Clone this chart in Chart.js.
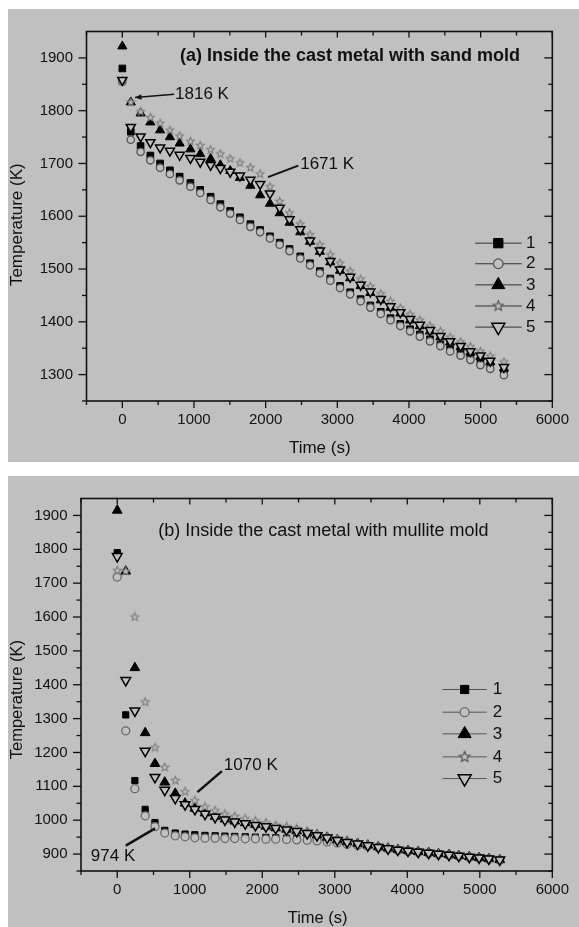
<!DOCTYPE html>
<html>
<head>
<meta charset="utf-8">
<title>Temperature inside the cast metal</title>
<script src="https://cdn.jsdelivr.net/npm/chart.js@4.4.1/dist/chart.umd.min.js"></script>
<style>
  html, body { margin: 0; padding: 0; background: #fff; }
  body { width: 579px; height: 927px; position: relative; overflow: hidden; }
  .panel { position: absolute; left: 8px; width: 571px; background: #c0c0c0; }
  #panelA { top: 9px; height: 453px; }
  #panelB { top: 476px; height: 451px; }
  canvas { display: block; }
</style>
</head>
<body>
<div class="panel" id="panelA"><canvas id="chartA" width="571" height="453"></canvas></div>
<div class="panel" id="panelB"><canvas id="chartB" width="571" height="451"></canvas></div>
<script>
// Series names and tick labels
const seriesNames = ['1', '2', '3', '4', '5'];
const xTickLabels = [0, 1000, 2000, 3000, 4000, 5000, 6000];
const yTickLabelsA = [1300, 1400, 1500, 1600, 1700, 1800, 1900];
const yTickLabelsB = [900, 1000, 1100, 1200, 1300, 1400, 1500, 1600, 1700, 1800, 1900];

// (a) sand mold: time (s) and temperature (K)
const timeA = [0, 118, 255, 391, 527, 664, 800, 950, 1087, 1232, 1368, 1505, 1641, 1787, 1923, 2060, 2196, 2333, 2483, 2619,
  2756, 2902, 3038, 3179, 3325, 3461, 3606, 3742, 3879, 4015, 4151, 4293, 4438, 4574, 4720, 4857, 4997, 5134, 5325];
const sand1 = [1880, 1760, 1733, 1715, 1700, 1687, 1675, 1663, 1650, 1637, 1623, 1610, 1598, 1585, 1574, 1562, 1550, 1538, 1524, 1511,
  1496, 1482, 1468, 1456, 1443, 1431, 1419, 1407, 1396, 1386, 1376, 1367, 1357, 1348, 1339, 1331, 1322, 1314, 1302];
const sand2 = [1855, 1745, 1722, 1706, 1692, 1680, 1668, 1656, 1644, 1631, 1617, 1605, 1593, 1580, 1570, 1558, 1546, 1534, 1520, 1507,
  1492, 1478, 1464, 1452, 1439, 1427, 1415, 1403, 1392, 1382, 1372, 1363, 1354, 1344, 1336, 1328, 1318, 1311, 1299];
const sand3 = [1922, 1816, 1795, 1778, 1763, 1750, 1738, 1727, 1718, 1709, 1697, 1686, 1673, 1658, 1640, 1624, 1606, 1588, 1570, 1552,
  1533, 1513, 1497, 1483, 1468, 1455, 1441, 1427, 1416, 1403, 1392, 1382, 1371, 1361, 1352, 1342, 1334, 1324, 1312];
const sand4 = [1856, 1816, 1798, 1787, 1776, 1763, 1752, 1742, 1734, 1726, 1718, 1709, 1701, 1692, 1680, 1656, 1628, 1606, 1585, 1565,
  1546, 1527, 1511, 1496, 1481, 1467, 1453, 1439, 1426, 1414, 1403, 1392, 1382, 1371, 1362, 1353, 1344, 1335, 1324];
const sand5 = [1858, 1769, 1751, 1740, 1730, 1724, 1716, 1710, 1703, 1697, 1691, 1684, 1677, 1669, 1661, 1643, 1616, 1594, 1575, 1554,
  1535, 1515, 1499, 1485, 1470, 1457, 1443, 1429, 1418, 1405, 1394, 1384, 1373, 1363, 1354, 1344, 1336, 1326, 1314];

// (b) mullite mold: time (s) and temperature (K)
const timeB = [0, 117, 243, 385, 520, 655, 800, 935, 1070, 1210, 1350, 1485, 1620, 1765, 1905, 2050, 2185, 2335, 2475, 2620,
  2755, 2895, 3035, 3170, 3315, 3455, 3600, 3735, 3870, 4010, 4150, 4295, 4430, 4575, 4710, 4855, 4990, 5125, 5275];
const mullite1 = [1790, 1311, 1117, 1032, 993, 970, 962, 959, 957, 955, 954, 953, 952, 951, 950, 949, 948, 947, 946, 944,
  942, 939, 936, 932, 928, 925, 920, 916, 912, 909, 906, 903, 900, 897, 894, 891, 889, 886, 883];
const mullite2 = [1718, 1264, 1093, 1013, 981, 962, 954, 951, 948, 947, 947, 946, 946, 945, 945, 944, 944, 943, 942, 941,
  939, 936, 933, 929, 926, 923, 919, 915, 911, 908, 905, 902, 899, 896, 893, 890, 888, 885, 882];
const mullite3 = [1915, 1735, 1450, 1258, 1167, 1112, 1079, 1050, 1035, 1021, 1011, 1003, 997, 992, 987, 982, 977, 973, 968, 962,
  956, 949, 942, 936, 931, 926, 921, 917, 913, 910, 907, 904, 901, 898, 895, 892, 889, 886, 883];
const mullite4 = [1737, 1735, 1600, 1349, 1214, 1156, 1117, 1084, 1058, 1039, 1028, 1018, 1011, 1004, 998, 992, 985, 981, 975, 967,
  960, 952, 945, 939, 933, 928, 923, 919, 915, 911, 908, 905, 902, 899, 896, 893, 890, 887, 885];
const mullite5 = [1779, 1413, 1323, 1204, 1127, 1089, 1065, 1046, 1032, 1018, 1009, 1001, 995, 990, 985, 981, 976, 972, 967, 961,
  955, 948, 941, 935, 930, 925, 920, 916, 912, 909, 906, 903, 900, 897, 894, 891, 889, 886, 883];

const BG = '#c0c0c0';
const INK = '#111';
const FONT = '"Liberation Sans", Arial, Helvetica, sans-serif';

// five-pointed open star used as a point style
function starImage(outer, stroke, lw) {
    const size = Math.ceil(outer * 2 + lw * 2 + 2);
    const c = document.createElement('canvas');
    c.width = size;
    c.height = size;
    const g = c.getContext('2d');
    const cx = size / 2, cy = size / 2, inner = outer * 0.45;
    g.beginPath();
    for (let k = 0; k < 10; k++) {
        const r = k % 2 ? inner : outer;
        const ang = -Math.PI / 2 + k * Math.PI / 5;
        g.lineTo(cx + r * Math.cos(ang), cy + r * Math.sin(ang));
    }
    g.closePath();
    g.fillStyle = BG;
    g.fill();
    g.lineWidth = lw;
    g.strokeStyle = stroke;
    g.stroke();
    return c;
}

function markerStyles(r, circleColor, starColor) {
    return [
        { pointStyle: 'rect', pointRadius: r.rect, pointBackgroundColor: '#000', pointBorderColor: '#000', pointBorderWidth: 1 },
        { pointStyle: 'circle', pointRadius: r.circle, pointBackgroundColor: BG, pointBorderColor: circleColor, pointBorderWidth: 1.3 },
        { pointStyle: 'triangle', pointRadius: r.tri, pointBackgroundColor: '#000', pointBorderColor: '#000', pointBorderWidth: 1 },
        { pointStyle: starImage(r.star, starColor, 1.1), pointRadius: r.star, pointBackgroundColor: BG, pointBorderColor: starColor, pointBorderWidth: 1.1 },
        { pointStyle: 'triangle', pointRotation: 180, pointRadius: r.tri, pointBackgroundColor: BG, pointBorderColor: '#000', pointBorderWidth: 1.5 }
    ];
}

// Origin-like frame, ticks, titles, notes and legend
const originLook = {
    id: 'originLook',
    afterDraw(chart, args, o) {
        const ctx = chart.ctx, a = chart.chartArea;
        const xs = chart.scales.x, ys = chart.scales.y;
        const px = v => xs.getPixelForValue(v);
        const py = v => ys.getPixelForValue(v);
        ctx.save();
        ctx.strokeStyle = INK;
        ctx.lineWidth = 1.6;
        ctx.strokeRect(a.left, a.top, a.right - a.left, a.bottom - a.top);

        const seg = (x1, y1, x2, y2) => { ctx.beginPath(); ctx.moveTo(x1, y1); ctx.lineTo(x2, y2); ctx.stroke(); };
        ctx.lineWidth = 1.3;
        const xMinor = xTickLabels.map(v => v - 500);
        const yMinor = o.yTicks.map(v => v - 50);
        xTickLabels.forEach(v => { const x = px(v); seg(x, a.bottom, x, a.bottom + 7); seg(x, a.top, x, a.top + 6); });
        xMinor.forEach(v => { const x = px(v); seg(x, a.bottom, x, a.bottom + 4); seg(x, a.top, x, a.top + 4); });
        o.yTicks.forEach(v => { const y = py(v); seg(a.left - 8, y, a.left, y); seg(a.right - 8, y, a.right, y); });
        yMinor.forEach(v => { const y = py(v); seg(a.left - 4.5, y, a.left, y); seg(a.right - 4, y, a.right, y); });

        ctx.fillStyle = INK;
        ctx.textBaseline = 'middle';
        // axis titles
        ctx.font = o.axisFont;
        ctx.textAlign = 'center';
        ctx.fillText('Time (s)', px(o.xTitle.t), a.bottom + o.xTitle.dy);
        ctx.save();
        ctx.translate(a.left + o.yTitle.dx, py(o.yTitle.T));
        ctx.rotate(-Math.PI / 2);
        ctx.fillText('Temperature (K)', 0, 0);
        ctx.restore();

        // panel title and notes
        ctx.textAlign = 'left';
        ctx.font = o.title.font;
        ctx.fillText(o.title.text, px(o.title.t), py(o.title.T));
        ctx.font = o.noteFont;
        o.notes.forEach(n => ctx.fillText(n.text, px(n.t), py(n.T)));
        o.pointers.forEach(p => {
            const x1 = px(p.from[0]), y1 = py(p.from[1]), x2 = px(p.to[0]), y2 = py(p.to[1]);
            ctx.lineWidth = p.width;
            seg(x1, y1, x2, y2);
            if (p.arrow) {
                const ang = Math.atan2(y2 - y1, x2 - x1);
                ctx.beginPath();
                ctx.moveTo(x2, y2);
                ctx.lineTo(x2 - 7 * Math.cos(ang - 0.4), y2 - 7 * Math.sin(ang - 0.4));
                ctx.lineTo(x2 - 7 * Math.cos(ang + 0.4), y2 - 7 * Math.sin(ang + 0.4));
                ctx.closePath();
                ctx.fill();
            }
        });

        // legend: line - marker - line, then the label
        const L = o.legend;
        chart.data.datasets.forEach((ds, i) => {
            const y = py(L.rows[i]);
            ctx.strokeStyle = L.lineColor;
            ctx.lineWidth = 1;
            seg(px(L.lineFrom), y, px(L.lineTo), y);
            ctx.fillStyle = ds.pointBackgroundColor;
            ctx.strokeStyle = ds.pointBorderColor;
            ctx.lineWidth = ds.pointBorderWidth;
            const style = typeof ds.pointStyle === 'string' ? ds.pointStyle : L.star;
            Chart.helpers.drawPoint(ctx, {
                pointStyle: style, rotation: ds.pointRotation || 0,
                radius: L.radius[i], borderWidth: ds.pointBorderWidth
            }, px(L.marker), y);
            ctx.fillStyle = INK;
            ctx.font = L.font;
            ctx.fillText(ds.label, px(L.label), y);
        });
        ctx.restore();
    }
};

function buildChart(id, cfg) {
    const styles = markerStyles(cfg.radius, cfg.circleColor, cfg.starColor);
    const plain = v => String(v);
    return new Chart(document.getElementById(id), {
        type: 'scatter',
        data: {
            datasets: cfg.series.map((vals, i) => Object.assign({
                label: seriesNames[i],
                data: cfg.times.map((t, k) => ({ x: t, y: vals[k] })),
                order: 5 - i
            }, styles[i]))
        },
        options: {
            responsive: false,
            animation: false,
            events: [],
            layout: { padding: { left: 0, right: 16, top: 4, bottom: 0 } },
            plugins: {
                legend: { display: false },
                tooltip: { enabled: false },
                originLook: cfg.look
            },
            scales: {
                x: {
                    type: 'linear', min: -500, max: 6000,
                    grid: { display: false, drawTicks: false }, border: { display: false },
                    afterBuildTicks: s => { s.ticks = xTickLabels.map(v => ({ value: v })); },
                    afterFit: s => { s.height = cfg.xAxisHeight; },
                    ticks: { font: { family: FONT, size: 15 }, color: INK, padding: 10, maxRotation: 0, autoSkip: false, callback: plain }
                },
                y: {
                    type: 'linear', min: cfg.yMin, max: 1950,
                    grid: { display: false, drawTicks: false }, border: { display: false },
                    afterBuildTicks: s => { s.ticks = cfg.look.yTicks.map(v => ({ value: v })); },
                    afterFit: s => { s.width = cfg.yAxisWidth; },
                    ticks: { font: { family: FONT, size: 15 }, color: INK, padding: 13.5, autoSkip: false, callback: plain }
                }
            }
        },
        plugins: [originLook]
    });
}

buildChart('chartA', {
    times: timeA,
    series: [sand1, sand2, sand3, sand4, sand5],
    yMin: 1250, yAxisWidth: 78.5, xAxisHeight: 61,
    radius: { rect: 4.7, circle: 3.7, tri: 5.3, star: 4 },
    circleColor: '#555', starColor: '#7a7a7a',
    look: {
        yTicks: yTickLabelsA,
        axisFont: '17px ' + FONT,
        noteFont: '17px ' + FONT,
        xTitle: { t: 2755, dy: 47 },
        yTitle: { T: 1584, dx: -69.5 },
        title: { text: '(a) Inside the cast metal with sand mold', t: 805, T: 1904, font: 'bold 18px ' + FONT },
        notes: [{ text: '1816 K', t: 736, T: 1831 }, { text: '1671 K', t: 2482, T: 1698 }],
        pointers: [
            { from: [723, 1831], to: [177, 1825], width: 1.6, arrow: true },
            { from: [2455, 1696], to: [2032, 1674], width: 2, arrow: false }
        ],
        legend: {
            rows: [1549, 1510, 1470, 1430, 1390],
            lineFrom: 4923, lineTo: 5573, marker: 5246, label: 5632,
            lineColor: '#333', font: '17px ' + FONT,
            radius: [6.6, 4.8, 7.5, 5.2, 7.5],
            star: starImage(5.2, '#555', 1.2)
        }
    }
});

buildChart('chartB', {
    times: timeB,
    series: [mullite1, mullite2, mullite3, mullite4, mullite5],
    yMin: 850, yAxisWidth: 73, xAxisHeight: 56,
    radius: { rect: 4.4, circle: 4, tri: 5.6, star: 4.2 },
    circleColor: '#6a6a6a', starColor: '#7a7a7a',
    look: {
        yTicks: yTickLabelsB,
        axisFont: '16.5px ' + FONT,
        noteFont: '17px ' + FONT,
        xTitle: { t: 2764, dy: 47 },
        yTitle: { T: 1356, dx: -64 },
        title: { text: '(b) Inside the cast metal with mullite mold', t: 566, T: 1855, font: '18px ' + FONT },
        notes: [{ text: '1070 K', t: 1470, T: 1162 }, { text: '974 K', t: -364, T: 894 }],
        pointers: [
            { from: [1443, 1145], to: [1106, 1083], width: 2.5, arrow: false },
            { from: [117, 925], to: [522, 976], width: 2.5, arrow: false }
        ],
        legend: {
            rows: [1386, 1319, 1255, 1187, 1123],
            lineFrom: 4486, lineTo: 5096, marker: 4791, label: 5177,
            lineColor: '#555', font: '17px ' + FONT,
            radius: [5.8, 4.5, 7.5, 5.5, 7.5],
            star: starImage(5.5, '#555', 1.2)
        }
    }
});
</script>
</body>
</html>
